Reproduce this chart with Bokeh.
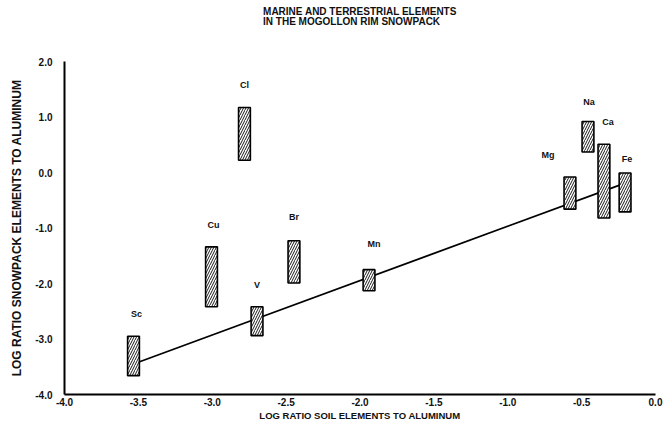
from bokeh.plotting import figure
from bokeh.models import ColumnDataSource, Range1d, FixedTicker, Title, CustomJSTickFormatter
from bokeh.core.properties import value
from bokeh.embed import file_html
from bokeh.resources import INLINE

# ---- data ----
elements = ["Sc", "Cu", "Cl", "V", "Br", "Mn", "Mg", "Na", "Ca", "Fe"]
soil_ratio = [-3.533, -3.005, -2.782, -2.697, -2.447, -1.939, -0.579, -0.457, -0.349, -0.206]
snow_low = [-3.66, -2.42, 0.22, -2.94, -1.99, -2.13, -0.66, 0.37, -0.82, -0.71]
snow_high = [-2.95, -1.34, 1.17, -2.42, -1.23, -1.75, -0.08, 0.92, 0.51, -0.01]
fit_x = [-3.533, -0.206]
fit_y = [-3.45, -0.19]
x_ticks = [-4.0, -3.5, -3.0, -2.5, -2.0, -1.5, -1.0, -0.5, 0.0]
y_ticks = [-4.0, -3.0, -2.0, -1.0, 0.0, 1.0, 2.0]

# label placement (pixels, relative to bar top centre)
lab_dx = [3, 2, 0, 0, 0, 5, -22, 1, 4, 2]
lab_dy = [-22, -22, -23, -22, -24, -26, -22, -19, -22, -14]

FONT = "Liberation Sans"
bar_w = 0.08

src = ColumnDataSource(dict(
    el=elements,
    x=soil_ratio,
    left=[v - bar_w / 2 for v in soil_ratio],
    right=[v + bar_w / 2 for v in soil_ratio],
    low=snow_low,
    high=snow_high,
    dx=lab_dx,
    dy=lab_dy,
))

p = figure(width=665, height=423, output_backend="svg", toolbar_location=None,
           x_range=Range1d(-4.0, 0.0), y_range=Range1d(-4.0, 2.0),
           min_border_left=64, min_border_right=10, min_border_top=61, min_border_bottom=28)
p.outline_line_color = None
p.grid.visible = False
p.background_fill_color = "white"

# invisible spacer keeps the title up near the top edge
p.add_layout(Title(text=" ", text_font_size="20px", standoff=10), "above")
p.add_layout(Title(text="MARINE AND TERRESTRIAL ELEMENTS\nIN THE MOGOLLON RIM SNOWPACK",
                   align="center", offset=-6, standoff=0,
                   text_font=FONT, text_font_size="10px",
                   text_font_style="bold", text_color="#111111", text_line_height=0.95), "above")

p.line(fit_x, fit_y, line_color="black", line_width=1.8)

p.quad(left="left", right="right", bottom="low", top="high", source=src,
       fill_color="white", line_color="black", line_width=1.6,
       hatch_pattern="/", hatch_color="black", hatch_scale=5, hatch_weight=0.9)

p.text(x="x", y="high", text="el", source=src, x_offset="dx", y_offset="dy",
       text_font=value(FONT), text_font_size="9px", text_font_style="bold",
       text_align="center", text_baseline="middle", text_color="#111111")

fmt = CustomJSTickFormatter(code="return tick.toFixed(1);")
for ax, ticks in ((p.xaxis, x_ticks), (p.yaxis, y_ticks)):
    ax.ticker = FixedTicker(ticks=ticks)
    ax.formatter = fmt
    ax.axis_line_width = 2
    ax.axis_line_color = "black"
    ax.major_tick_out = 0
    ax.major_tick_in = 0
    ax.minor_tick_out = 0
    ax.minor_tick_in = 0
    ax.major_tick_line_color = None
    ax.minor_tick_line_color = None
    ax.major_label_text_font = FONT
    ax.major_label_text_font_size = "10px"
    ax.major_label_text_font_style = "bold"
    ax.major_label_text_color = "#111111"
    ax.axis_label_text_font = FONT
    ax.axis_label_text_font_style = "bold"
    ax.axis_label_text_color = "#111111"

p.xaxis.major_label_standoff = 3
p.yaxis.major_label_standoff = 12
p.xaxis.axis_label = "LOG RATIO SOIL ELEMENTS TO ALUMINUM"
p.yaxis.axis_label = "LOG RATIO SNOWPACK ELEMENTS TO ALUMINUM"
p.xaxis.axis_label_text_font_size = "9.5px"
p.yaxis.axis_label_text_font_size = "12px"
p.xaxis.axis_label_standoff = 1
p.yaxis.axis_label_standoff = 8

open("out.html", "w").write(file_html(p, INLINE))
